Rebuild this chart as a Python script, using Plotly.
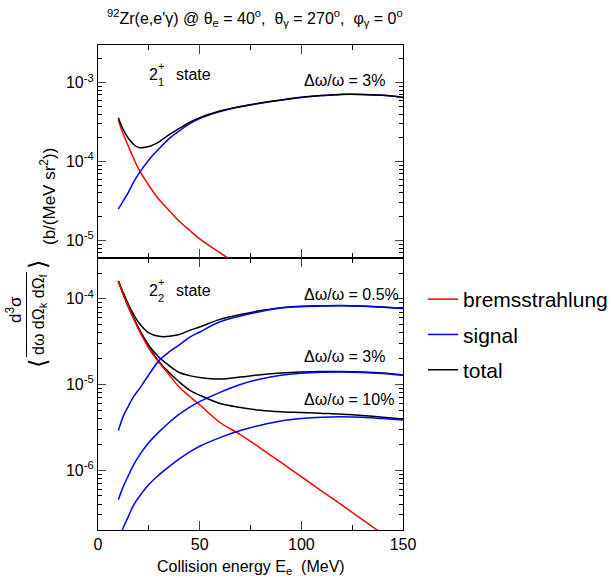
import math
import plotly.graph_objects as go

# ---------------- data ----------------
E = [10, 12.5, 15, 17.5, 20, 25, 30, 35, 40, 45, 50, 60, 70, 80, 90, 100, 110, 120, 130, 140, 150]

# upper panel: 2_1^+ state, dw/w = 3%
brems_21 = [3.35e-4, 2.2e-4, 1.55e-4, 1.1e-4, 8.0e-5, 5.0e-5, 3.3e-5, 2.4e-5, 1.75e-5, 1.35e-5, 1.05e-5,
            7.0e-6, 4.8e-6, 3.5e-6, 2.5e-6, 1.8e-6, 1.3e-6, 9e-7, 6.5e-7, 4.6e-7, 3.3e-7]
signal_21 = [2.5e-5, 3.2e-5, 4.1e-5, 5.5e-5, 7.0e-5, 1.05e-4, 1.45e-4, 1.95e-4, 2.45e-4, 3.0e-4, 3.5e-4,
             4.3e-4, 4.95e-4, 5.5e-4, 6.0e-4, 6.5e-4, 6.85e-4, 7.1e-4, 7.1e-4, 6.9e-4, 6.5e-4]
total_21 = [3.6e-4, 2.52e-4, 1.96e-4, 1.65e-4, 1.51e-4, 1.55e-4, 1.78e-4, 2.19e-4, 2.63e-4, 3.13e-4, 3.6e-4,
            4.37e-4, 5.0e-4, 5.54e-4, 6.03e-4, 6.52e-4, 6.86e-4, 7.11e-4, 7.1e-4, 6.9e-4, 6.5e-4]

# lower panel: 2_2^+ state
brems_22 = [1.62e-4, 1.12e-4, 8.0e-5, 5.9e-5, 4.4e-5, 2.65e-5, 1.8e-5, 1.3e-5, 9.3e-6, 7.3e-6, 5.8e-6,
            3.6e-6, 2.6e-6, 1.8e-6, 1.23e-6, 8.4e-7, 5.7e-7, 3.9e-7, 2.65e-7, 1.8e-7, 1.22e-7]
signal_22_05 = [2.9e-6, 4.3e-6, 5.6e-6, 7.2e-6, 8.7e-6, 1.3e-5, 1.9e-5, 2.4e-5, 2.9e-5, 3.55e-5, 4.1e-5,
                5.4e-5, 6.3e-5, 7.1e-5, 7.8e-5, 8.1e-5, 8.25e-5, 8.3e-5, 8.2e-5, 8.0e-5, 7.7e-5]
total_22_05 = [1.62e-4, 1.17e-4, 8.6e-5, 6.6e-5, 5.3e-5, 4.0e-5, 3.65e-5, 3.65e-5, 3.83e-5, 4.28e-5, 4.7e-5,
               5.76e-5, 6.56e-5, 7.3e-5, 7.9e-5, 8.2e-5, 8.3e-5, 8.35e-5, 8.25e-5, 8.05e-5, 7.75e-5]
signal_22_3 = [4.5e-7, 6.5e-7, 8.7e-7, 1.15e-6, 1.45e-6, 2.1e-6, 2.8e-6, 3.6e-6, 4.5e-6, 5.4e-6, 6.3e-6,
               8.1e-6, 1.0e-5, 1.16e-5, 1.28e-5, 1.35e-5, 1.39e-5, 1.4e-5, 1.38e-5, 1.34e-5, 1.28e-5]
total_22_3 = [1.62e-4, 1.13e-4, 8.1e-5, 6.0e-5, 4.55e-5, 2.86e-5, 2.08e-5, 1.66e-5, 1.38e-5, 1.27e-5, 1.21e-5,
              1.16e-5, 1.22e-5, 1.3e-5, 1.36e-5, 1.4e-5, 1.42e-5, 1.42e-5, 1.4e-5, 1.36e-5, 1.29e-5]
signal_22_10 = [1.5e-7, 2.15e-7, 2.9e-7, 3.9e-7, 4.8e-7, 6.8e-7, 8.8e-7, 1.1e-6, 1.35e-6, 1.62e-6, 1.9e-6,
                2.4e-6, 2.9e-6, 3.35e-6, 3.75e-6, 4.0e-6, 4.15e-6, 4.2e-6, 4.15e-6, 4.0e-6, 3.85e-6]
total_22_10 = [1.62e-4, 1.12e-4, 8.0e-5, 5.95e-5, 4.45e-5, 2.75e-5, 1.85e-5, 1.38e-5, 1.07e-5, 8.6e-6, 7.5e-6,
               6.0e-6, 5.4e-6, 5.0e-6, 4.8e-6, 4.7e-6, 4.6e-6, 4.5e-6, 4.35e-6, 4.15e-6, 3.95e-6]

x_ticks = [0, 50, 100, 150]
x_minor = [25, 75, 125]
top_ticks = [1e-5, 1e-4, 1e-3]
top_ticktext = ["10<sup>-5</sup>", "10<sup>-4</sup>", "10<sup>-3</sup>"]
bot_ticks = [1e-6, 1e-5, 1e-4]
bot_ticktext = ["10<sup>-6</sup>", "10<sup>-5</sup>", "10<sup>-4</sup>"]

# ---------------- layout geometry ----------------
W_, H_ = 612, 578
L, R, T, B = 98, 403, 45, 530
PW, PH = R - L, B - T
SPLIT = 258
def ax(px):
    return (px - L) / PW
def ay(py):
    return (B - py) / PH

FONT = "Liberation Sans, Arial, Helvetica, sans-serif"
RED, BLUE, BLACK = "#ff0000", "#0000ff", "#000000"
LW = 1.5

def minor_log(lo, hi):
    vals = []
    for d in range(lo, hi + 1):
        for m in range(2, 10):
            vals.append(m * 10.0 ** d)
    return vals

fig = go.Figure()

def add(xs, ys, color, yaxis, name, show, group):
    fig.add_trace(go.Scatter(
        x=xs, y=ys, mode="lines", name=name,
        line=dict(color=color, width=LW, shape="spline", smoothing=1.0),
        xaxis="x2" if yaxis == "y2" else "x", yaxis=yaxis,
        showlegend=show, legendgroup=group, cliponaxis=True, hoverinfo="skip"))

# upper panel
add(E, brems_21, RED, "y2", "bremsstrahlung", True, "a")
add(E, signal_21, BLUE, "y2", "signal", True, "b")
add(E, total_21, BLACK, "y2", "total", True, "c")
# lower panel
for tot in (total_22_05, total_22_3, total_22_10):
    add(E, tot, BLACK, "y", "total", False, "c")
add(E, brems_22, RED, "y", "bremsstrahlung", False, "a")
for sig in (signal_22_05, signal_22_3, signal_22_10):
    add(E, sig, BLUE, "y", "signal", False, "b")

split_p = ay(SPLIT)
axis_common = dict(showline=True, linecolor="black", linewidth=1.2, mirror="allticks",
                   ticks="inside", showgrid=False, zeroline=False,
                   tickfont=dict(family=FONT, size=16, color="black"))

fig.update_layout(
    width=W_, height=H_,
    margin=dict(l=L, r=W_ - R, t=T, b=H_ - B, autoexpand=False),
    paper_bgcolor="white", plot_bgcolor="white",
    font=dict(family=FONT, size=16, color="black"),
    xaxis=dict(domain=[0, 1], anchor="y", range=[0, 150], tickvals=x_ticks, ticklen=9,
               minor=dict(tickvals=x_minor, ticklen=5, ticks="inside", tickcolor="black"),
               **axis_common),
    xaxis2=dict(domain=[0, 1], anchor="y2", range=[0, 150], matches="x", tickvals=x_ticks, ticklen=9,
                showticklabels=False,
                minor=dict(tickvals=x_minor, ticklen=5, ticks="inside", tickcolor="black"),
                **axis_common),
    yaxis=dict(domain=[0, split_p], anchor="x", type="log",
               range=[math.log10(2e-7), math.log10(3e-4)],
               tickvals=bot_ticks, ticktext=bot_ticktext, ticklen=8,
               minor=dict(tickvals=minor_log(-7, -4), ticklen=4, ticks="inside", tickcolor="black"),
               **axis_common),
    yaxis2=dict(domain=[split_p, 1], anchor="x2", type="log",
                range=[math.log10(6e-6), math.log10(3e-3)],
                tickvals=top_ticks, ticktext=top_ticktext, ticklen=8,
                minor=dict(tickvals=minor_log(-6, -3), ticklen=4, ticks="inside", tickcolor="black"),
                **axis_common),
    legend=dict(x=ax(423), xanchor="left", y=ay(279), yanchor="top",
                font=dict(family=FONT, size=21, color="black"),
                tracegroupgap=5, bgcolor="rgba(0,0,0,0)", borderwidth=0,
                traceorder="grouped"),
    showlegend=True,
)

ann = []
def text(px, py, s, size=16, xanchor="center", angle=0, family=FONT):
    ann.append(dict(x=ax(px), y=ay(py), xref="paper", yref="paper", text=s, showarrow=False,
                    xanchor=xanchor, yanchor="middle", textangle=angle,
                    font=dict(family=family, size=size, color="black")))

# title
text(255, 18, "<sup>92</sup>Zr(e,e'γ) @ θ<sub>e</sub> = 40<sup>o</sup>,  θ<sub>γ</sub> = 270<sup>o</sup>,  φ<sub>γ</sub> = 0<sup>o</sup>", size=16)
# panel labels
text(153, 74, "2", 16)
text(160.5, 66, "+", 11)
text(160.5, 82, "1", 11)
text(174, 74, "state", 16, xanchor="left")
text(153, 290, "2", 16)
text(160.5, 282, "+", 11)
text(160.5, 298, "2", 11)
text(174, 290, "state", 16, xanchor="left")
text(302, 81, "Δω/ω = 3%", 16, xanchor="left")
text(302, 294, "Δω/ω = 0.5%", 16, xanchor="left")
text(302, 357, "Δω/ω = 3%", 16, xanchor="left")
text(302, 399, "Δω/ω = 10%", 16, xanchor="left")
# x title
text(251, 567, "Collision energy E<sub>e</sub>  (MeV)", 16)
# y title (rotated pieces)
text(48, 197, "(b/(MeV sr<sup>2</sup>))", 17, angle=-90)
text(38, 265, "⟩", 24, angle=-90, family="DejaVu Sans")
text(14, 310, "d<sup>3</sup>σ", 17, angle=-90)
text(39, 314, "dω dΩ<sub>k</sub> dΩ<sub>f</sub>", 16, angle=-90)
text(38, 364, "⟨", 24, angle=-90, family="DejaVu Sans")
fig.update_layout(annotations=ann)
fig.add_shape(type="line", xref="paper", yref="paper", x0=ax(26.5), x1=ax(26.5), y0=ay(272), y1=ay(357),
              line=dict(color="black", width=1))

fig.write_html("out.html")
